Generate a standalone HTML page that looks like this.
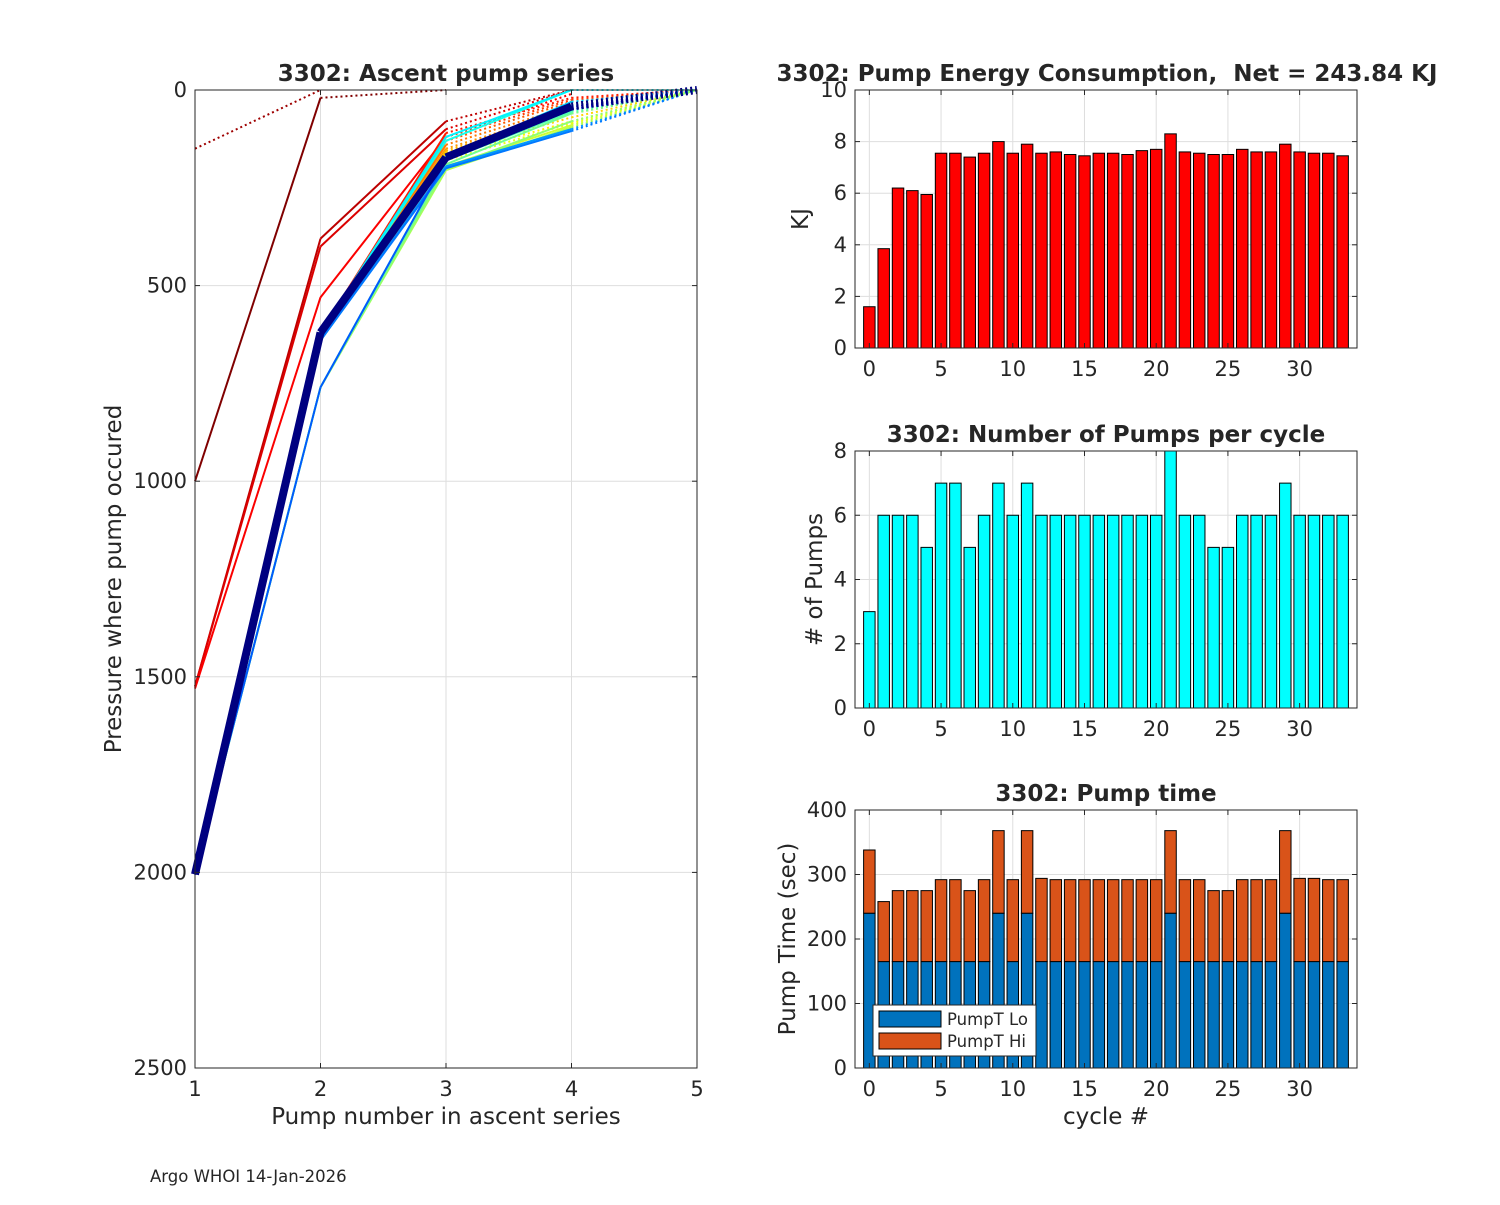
<!DOCTYPE html>
<html><head><meta charset="utf-8">
<style>
body{margin:0;background:#fff;}
svg text{font-family:"DejaVu Sans","Liberation Sans",sans-serif;fill:#262626;white-space:pre;}
</style></head>
<body>
<svg id="fig" width="1500" height="1200" xmlns="http://www.w3.org/2000/svg"></svg>
<script>
// ---- data ----
const cycles = [0,1,2,3,4,5,6,7,8,9,10,11,12,13,14,15,16,17,18,19,20,21,22,23,24,25,26,27,28,29,30,31,32,33];
const energyKJ = [1.6,3.85,6.2,6.1,5.95,7.55,7.55,7.4,7.55,8.0,7.55,7.9,7.55,7.6,7.5,7.45,7.55,7.55,7.5,7.65,7.7,8.3,7.6,7.55,7.5,7.5,7.7,7.6,7.6,7.9,7.6,7.55,7.55,7.45];
const pumpCount = [3,6,6,6,5,7,7,5,6,7,6,7,6,6,6,6,6,6,6,6,6,8,6,6,5,5,6,6,6,7,6,6,6,6];
const pumpTLo = [240,165,165,165,165,165,165,165,165,240,165,240,165,165,165,165,165,165,165,165,165,240,165,165,165,165,165,165,165,240,165,165,165,165];
const pumpTHi = [98,93,110,110,110,127,127,110,127,128,127,128,129,127,127,127,127,127,127,127,127,128,127,127,110,110,127,127,127,128,129,129,127,127];
const energyTicks = [0,2,4,6,8,10];
const pumpTicks = [0,2,4,6,8];
const timeTicks = [0,100,200,300,400];
const cycleTicks = [0,5,10,15,20,25,30];
const pressTicks = [0,500,1000,1500,2000,2500];
const pumpNumTicks = [1,2,3,4,5];
// ascent profiles: pressure at pump 1..5 (null = none)
const profiles = [
 [1000,20,0,null,null],
 [150,0,null,null,null],
 [1525,380,80,0,null],
 [1525,400,100,0,null],
 [1530,530,120,10,null],
 [2005,620,110,20,0],
 [2005,625,120,25,0],
 [2005,630,130,30,0],
 [2005,620,140,40,0],
 [2005,620,150,50,0],
 [2005,620,155,60,0],
 [2005,640,160,70,0],
 [2005,625,170,80,0],
 [2005,630,180,85,0],
 [2005,640,195,90,0],
 [2005,760,205,95,0],
 [2005,760,200,80,0],
 [2005,760,190,60,0],
 [2005,760,180,55,0],
 [2005,630,175,50,0],
 [2005,620,130,0,0],
 [2005,620,120,0,0],
 [2005,620,170,30,0],
 [2005,620,175,40,0],
 [2005,640,195,100,0],
 [2005,640,200,105,0],
 [2005,760,180,50,0],
 [2005,620,175,45,0],
 [2005,620,175,45,0],
 [2005,625,180,50,0],
 [2005,625,178,45,0],
 [2005,620,175,45,0],
 [2005,620,175,45,0],
 [2005,620,172,42,0]
];

const svg = document.getElementById('fig');
const NS='http://www.w3.org/2000/svg';
function mk(tag, attrs, parent){const e=document.createElementNS(NS,tag);for(const k in attrs)e.setAttribute(k,attrs[k]);(parent||svg).appendChild(e);return e;}
function txt(s,x,y,attrs,parent){const t=mk('text',Object.assign({x:x,y:y},attrs),parent);t.textContent=s;return t;}

function jet(t){
  function c(x){return Math.max(0,Math.min(1,x));}
  const r=c(1.5-Math.abs(4*t-3)), g=c(1.5-Math.abs(4*t-2)), b=c(1.5-Math.abs(4*t-1));
  return `rgb(${Math.round(r*255)},${Math.round(g*255)},${Math.round(b*255)})`;
}

const TICK=21, LAB=23, TTL=23;

// ---- left chart ----
const L={x0:195,x1:697,y0:90,y1:1068};
const lx=n=>L.x0+(n-1)/4*(L.x1-L.x0);
const ly=p=>L.y0+p/2500*(L.y1-L.y0);
const gL=mk('g',{},svg);


mk('rect',{x:L.x0,y:L.y0,width:L.x1-L.x0,height:L.y1-L.y0,fill:'#fff'},gL);
pumpNumTicks.forEach(n=>{const l=mk('line',{x1:lx(n),x2:lx(n),y1:L.y0,y2:L.y1,stroke:'#dedede','stroke-width':1},gL);});
pressTicks.forEach(p=>{const l=mk('line',{x1:L.x0,x2:L.x1,y1:ly(p),y2:ly(p),stroke:'#dedede','stroke-width':1},gL);});
profiles.forEach((pr,i)=>{
  const col = jet(1-i/(profiles.length-1));
  const w = i>=profiles.length-3 ? (i===profiles.length-1?8:3) : 2;
  for(let k=0;k<4;k++){
    if(pr[k]===null||pr[k+1]===null)continue;
    const dotted = (i===0&&k>=1)||(i===1)||(k===3)||(k===2&&i<=13);
    const s=mk('line',{x1:lx(k+1),y1:ly(pr[k]),x2:lx(k+2),y2:ly(pr[k+1]),stroke:col,'stroke-width':w,'stroke-dasharray':dotted?'2,3':'none','stroke-linecap':'butt'},gL);
    
    
  }
});
mk('rect',{x:L.x0,y:L.y0,width:L.x1-L.x0,height:L.y1-L.y0,fill:'none',stroke:'#262626','stroke-width':1},gL);
pumpNumTicks.forEach(n=>{mk('line',{x1:lx(n),x2:lx(n),y1:L.y1,y2:L.y1-5,stroke:'#262626'},gL);mk('line',{x1:lx(n),x2:lx(n),y1:L.y0,y2:L.y0+5,stroke:'#262626'},gL);
  const t=txt(String(n),lx(n),L.y1+28,{'font-size':TICK,'text-anchor':'middle'},gL);});
pressTicks.forEach(p=>{mk('line',{x1:L.x0,x2:L.x0+5,y1:ly(p),y2:ly(p),stroke:'#262626'},gL);mk('line',{x1:L.x1,x2:L.x1-5,y1:ly(p),y2:ly(p),stroke:'#262626'},gL);
  const t=txt(String(p),L.x0-8,ly(p)+7,{'font-size':TICK,'text-anchor':'end'},gL);});
let t;
t=txt('3302: Ascent pump series',446,81,{'font-size':TTL,'font-weight':'bold','text-anchor':'middle',fill:'#000'},gL);
t=txt('Pump number in ascent series',446,1124,{'font-size':LAB,'text-anchor':'middle'},gL);
t=txt('Pressure where pump occured',0,0,{'font-size':LAB,'text-anchor':'middle',transform:'translate(121,579) rotate(-90)'},gL);

// ---- right bar charts ----
function barChart(opt){
  const A=opt.box;
  const g=mk('g',{},svg);
  
  
  const bx=c=>A.x0+(c+1)/35*(A.x1-A.x0);
  const by=v=>A.y1-v/opt.ymax*(A.y1-A.y0);
  mk('rect',{x:A.x0,y:A.y0,width:A.x1-A.x0,height:A.y1-A.y0,fill:'#fff'},g);
  cycleTicks.forEach(c=>mk('line',{x1:bx(c),x2:bx(c),y1:A.y0,y2:A.y1,stroke:'#dedede'},g));
  opt.yticks.forEach(v=>mk('line',{x1:A.x0,x2:A.x1,y1:by(v),y2:by(v),stroke:'#dedede'},g));
  const bw=0.8/35*(A.x1-A.x0);
  cycles.forEach((c,i)=>{
    let base=0;
    opt.series.forEach((s,si)=>{
      const v=s.vals[i];
      const r=mk('rect',{x:bx(c)-bw/2,y:by(base+v),width:bw,height:by(base)-by(base+v),fill:s.color,stroke:'#000','stroke-width':1},g);
      
      
      base+=v;
    });
  });
  mk('rect',{x:A.x0,y:A.y0,width:A.x1-A.x0,height:A.y1-A.y0,fill:'none',stroke:'#262626'},g);
  cycleTicks.forEach(c=>{mk('line',{x1:bx(c),x2:bx(c),y1:A.y1,y2:A.y1-5,stroke:'#262626'},g);mk('line',{x1:bx(c),x2:bx(c),y1:A.y0,y2:A.y0+5,stroke:'#262626'},g);
    const tt=txt(String(c),bx(c),A.y1+28,{'font-size':TICK,'text-anchor':'middle'},g);});
  opt.yticks.forEach(v=>{mk('line',{x1:A.x0,x2:A.x0+5,y1:by(v),y2:by(v),stroke:'#262626'},g);mk('line',{x1:A.x1,x2:A.x1-5,y1:by(v),y2:by(v),stroke:'#262626'},g);
    const tt=txt(String(v),A.x0-8,by(v)+7,{'font-size':TICK,'text-anchor':'end'},g);});
  const ti=txt(opt.title,opt.titleX||(A.x0+A.x1)/2,A.y0-9,{'font-size':TTL,'font-weight':'bold','text-anchor':'middle',fill:'#000'},g);
  
  const yl=txt(opt.ylabel,0,0,{'font-size':LAB,'text-anchor':'middle',transform:`translate(${opt.ylx},${(A.y0+A.y1)/2}) rotate(-90)`},g);
  
  return g;
}
barChart({name:'energy-chart',box:{x0:855,x1:1357,y0:90,y1:348},ymax:10,yticks:energyTicks,series:[{vals:energyKJ,color:'#ff0000',barName:'energy-bar'}],title:'3302: Pump Energy Consumption,  Net = 243.84 KJ',titleX:1107,ylabel:'KJ',ylx:808});
barChart({name:'pumps-chart',box:{x0:855,x1:1357,y0:451,y1:708},ymax:8,yticks:pumpTicks,series:[{vals:pumpCount,color:'#00ffff',barName:'pump-count-bar'}],title:'3302: Number of Pumps per cycle',ylabel:'# of Pumps',ylx:822});
const g3=barChart({name:'pump-time-chart',box:{x0:855,x1:1357,y0:810,y1:1068},ymax:400,yticks:timeTicks,series:[{vals:pumpTLo,color:'#0072bd',barName:'pumpt-lo-bar'},{vals:pumpTHi,color:'#d95319',barName:'pumpt-hi-bar'}],title:'3302: Pump time',ylabel:'Pump Time (sec)',ylx:795});
t=txt('cycle #',1106,1124,{'font-size':LAB,'text-anchor':'middle'},g3);
const lg=mk('g',{},g3);


mk('rect',{x:873,y:1005,width:163,height:51,fill:'#fff',stroke:'#262626'},lg);
mk('rect',{x:879,y:1011,width:62,height:16,fill:'#0072bd',stroke:'#000'},lg);
mk('rect',{x:879,y:1033,width:62,height:16,fill:'#d95319',stroke:'#000'},lg);
t=txt('PumpT Lo',947,1025,{'font-size':16.5,fill:'#000'},lg);
t=txt('PumpT Hi',947,1047,{'font-size':16.5,fill:'#000'},lg);
t=txt('Argo WHOI 14-Jan-2026',150,1182,{'font-size':16.5,fill:'#000'});
</script>
</body></html>
